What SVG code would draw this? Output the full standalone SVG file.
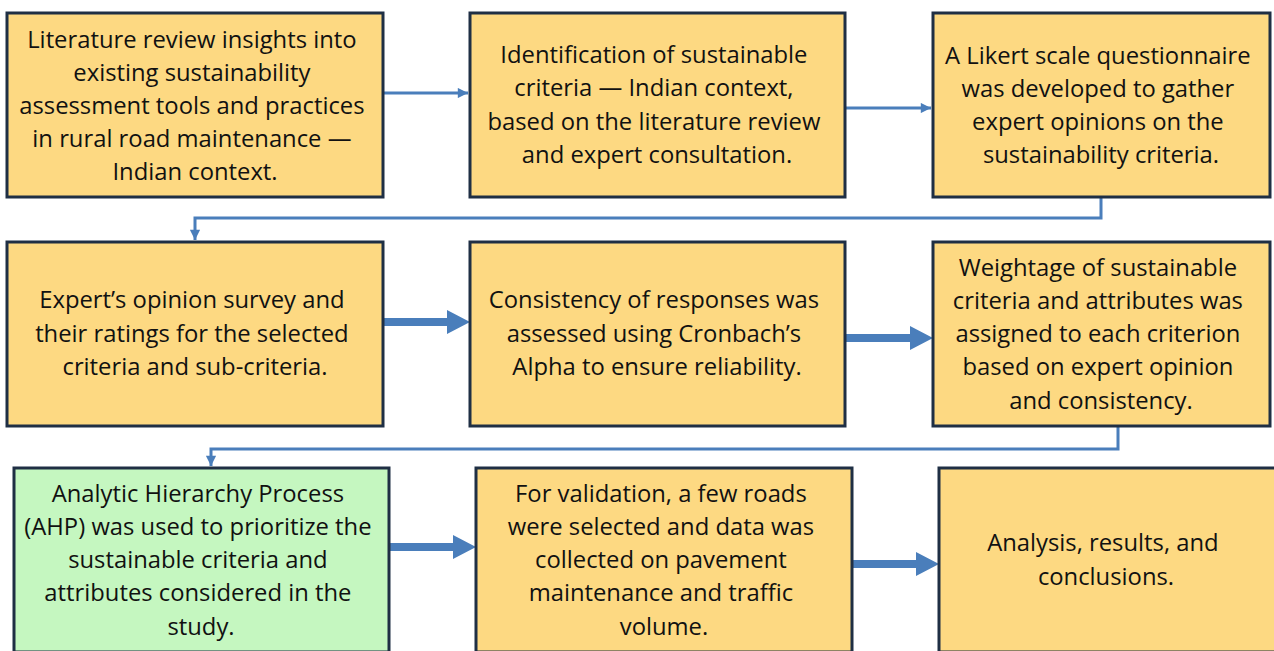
<svg xmlns="http://www.w3.org/2000/svg" width="1274" height="651" viewBox="0 0 1274 651">
  <style>
    .box { fill: #FDD982; stroke: #1F2F44; stroke-width: 3; }
    .box.green { fill: #C5F7C0; }
    .label { font-family: "Open Sans", "Liberation Sans", sans-serif; font-size: 23.8px; fill: #111111; text-anchor: middle; }
    .thin { fill: none; stroke: #4A7EBB; stroke-width: 3; }
    .thick { fill: #4A7EBB; stroke: none; }
  </style>
  <defs>
    <marker id="head" viewBox="0 0 10 10" refX="10" refY="5" markerWidth="4" markerHeight="3.4" orient="auto" markerUnits="strokeWidth">
      <path d="M0,0 L10,5 L0,10 Z" fill="#4A7EBB"/>
    </marker>
  </defs>
  <rect width="1274" height="651" fill="#FFFFFF"/>

  <!-- Connectors -->
  <g id="connectors">
    <path class="thin" d="M383,93 H468" marker-end="url(#head)"/>
    <path class="thin" d="M845,108 H931" marker-end="url(#head)"/>
    <path class="thin" d="M1101,197 V218 H195 V240" marker-end="url(#head)"/>
    <path class="thin" d="M1118,426 V449 H211 V466" marker-end="url(#head)"/>
    <!-- block arrows -->
    <path class="thick" d="M383,318 H447 V310 L470,322 L447,334 V326 H383 Z"/>
    <path class="thick" d="M845,334 H910 V326 L933,338 L910,350 V342 H845 Z"/>
    <path class="thick" d="M389,543 H453 V535 L476,547 L453,559 V551 H389 Z"/>
    <path class="thick" d="M852,560 H916 V552 L939,564 L916,576 V568 H852 Z"/>
  </g>

  <g id="n1">
    <rect class="box" x="7" y="13" width="376" height="184"/>
    <text class="label">
      <tspan x="195" y="48">Literature review insights into</tspan>
      <tspan x="195" y="81">existing sustainability</tspan>
      <tspan x="195" y="114">assessment tools and practices</tspan>
      <tspan x="195" y="147">in rural road maintenance —</tspan>
      <tspan x="195" y="180">Indian context.</tspan>
    </text>
  </g>

  <g id="n2">
    <rect class="box" x="470" y="13" width="375" height="184"/>
    <text class="label">
      <tspan x="657" y="63">Identification of sustainable</tspan>
      <tspan x="657" y="96">criteria — Indian context,</tspan>
      <tspan x="657" y="130">based on the literature review</tspan>
      <tspan x="657" y="163">and expert consultation.</tspan>
    </text>
  </g>

  <g id="n3">
    <rect class="box" x="933" y="13" width="337" height="184"/>
    <text class="label">
      <tspan x="1101" y="64">A Likert scale questionnaire</tspan>
      <tspan x="1101" y="97">was developed to gather</tspan>
      <tspan x="1101" y="130">expert opinions on the</tspan>
      <tspan x="1101" y="163">sustainability criteria.</tspan>
    </text>
  </g>

  <g id="n4">
    <rect class="box" x="7" y="242" width="376" height="184"/>
    <text class="label">
      <tspan x="195" y="308">Expert’s opinion survey and</tspan>
      <tspan x="195" y="342">their ratings for the selected</tspan>
      <tspan x="195" y="375">criteria and sub-criteria.</tspan>
    </text>
  </g>

  <g id="n5">
    <rect class="box" x="470" y="242" width="375" height="184"/>
    <text class="label">
      <tspan x="657" y="308">Consistency of responses was</tspan>
      <tspan x="657" y="342">assessed using Cronbach’s</tspan>
      <tspan x="657" y="375">Alpha to ensure reliability.</tspan>
    </text>
  </g>

  <g id="n6">
    <rect class="box" x="933" y="242" width="337" height="184"/>
    <text class="label">
      <tspan x="1101" y="276">Weightage of sustainable</tspan>
      <tspan x="1101" y="309">criteria and attributes was</tspan>
      <tspan x="1101" y="342">assigned to each criterion</tspan>
      <tspan x="1101" y="375">based on expert opinion</tspan>
      <tspan x="1101" y="409">and consistency.</tspan>
    </text>
  </g>

  <g id="n7">
    <rect class="box green" x="14" y="468" width="375" height="184"/>
    <text class="label">
      <tspan x="201" y="502">Analytic Hierarchy Process</tspan>
      <tspan x="201" y="535">(AHP) was used to prioritize the</tspan>
      <tspan x="201" y="568">sustainable criteria and</tspan>
      <tspan x="201" y="601">attributes considered in the</tspan>
      <tspan x="201" y="635">study.</tspan>
    </text>
  </g>

  <g id="n8">
    <rect class="box" x="476" y="468" width="376" height="184"/>
    <text class="label">
      <tspan x="664" y="502">For validation, a few roads</tspan>
      <tspan x="664" y="535">were selected and data was</tspan>
      <tspan x="664" y="568">collected on pavement</tspan>
      <tspan x="664" y="601">maintenance and traffic</tspan>
      <tspan x="664" y="635">volume.</tspan>
    </text>
  </g>

  <g id="n9">
    <rect class="box" x="939" y="468" width="340" height="184"/>
    <text class="label">
      <tspan x="1106" y="551">Analysis, results, and</tspan>
      <tspan x="1106" y="585">conclusions.</tspan>
    </text>
  </g>
</svg>
